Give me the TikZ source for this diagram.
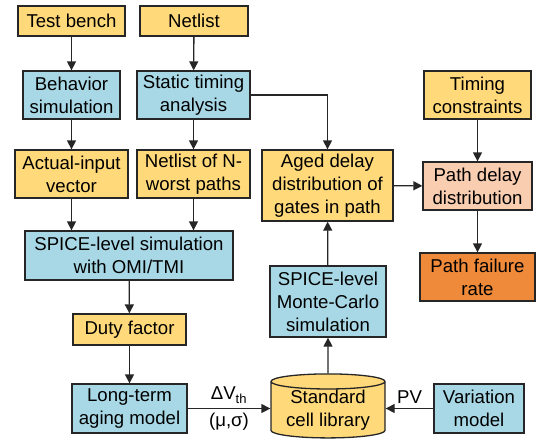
\documentclass[tikz,border=0pt]{standalone}
\usepackage{fontspec}
\setmainfont{Liberation Sans}
\usetikzlibrary{shapes.geometric,arrows.meta}
\definecolor{boxyellow}{HTML}{FFD97A}
\definecolor{boxblue}{HTML}{A8D8E6}
\definecolor{boxpeach}{HTML}{F9CDB0}
\definecolor{boxorange}{HTML}{EE8A3A}

\begin{document}
\begin{tikzpicture}[x=1pt,y=-1pt,
    box/.style={draw=black!85,line width=1.3pt,align=center,inner sep=0pt,
      font=\fontsize{18.6}{23}\selectfont},
    yellowbox/.style={box,fill=boxyellow},
    bluebox/.style={box,fill=boxblue},
    arr/.style={-{Triangle[length=9pt,width=9pt]},line width=1.3pt,draw=black!85}]
  \useasboundingbox (0,0) rectangle (537,440);

  \node[yellowbox,minimum width=107pt,minimum height=30pt] (tb) at (71.5,21) {Test bench};
  \node[yellowbox,minimum width=108pt,minimum height=30pt] (nl) at (194,21) {Netlist};
  \node[bluebox,minimum width=97pt,minimum height=48pt] (beh) at (71.5,95) {Behavior\\simulation};
  \node[bluebox,minimum width=113pt,minimum height=48pt] (sta) at (193.5,95) {Static timing\\analysis};
  \node[yellowbox,minimum width=113pt,minimum height=48pt] (aiv) at (71.5,174) {Actual-input\\vector};
  \node[yellowbox,minimum width=113pt,minimum height=48pt] (nwp) at (193.5,174) {Netlist of N-\\worst paths};
  \node[bluebox,minimum width=208pt,minimum height=49pt] (spice) at (129,255.5) {SPICE-level simulation\\with OMI/TMI};
  \node[yellowbox,minimum width=113pt,minimum height=31pt] (duty) at (129.5,329.5) {Duty factor};
  \node[bluebox,minimum width=115pt,minimum height=49pt] (aging) at (129.5,408.5) {Long-term\\aging model};

  \node[yellowbox,minimum width=131pt,minimum height=71pt] (aged) at (327.5,185.5) {Aged delay\\distribution of\\gates in path};
  \node[bluebox,minimum width=116pt,minimum height=71pt] (mc) at (328,301.5) {SPICE-level\\Monte-Carlo\\simulation};
  \node[yellowbox,cylinder,shape border rotate=90,aspect=0.18,
    minimum width=114pt,minimum height=64pt] (lib) at (328,410) {Standard\\cell library};

  \node[yellowbox,minimum width=107pt,minimum height=48pt] (tc) at (477.5,95) {Timing\\constraints};
  \node[box,fill=boxpeach,minimum width=109pt,minimum height=48pt] (pdd) at (477.5,186) {Path delay\\distribution};
  \node[box,fill=boxorange,minimum width=115pt,minimum height=48pt] (pfr) at (477.5,277) {Path failure\\rate};
  \node[bluebox,minimum width=90pt,minimum height=49pt] (var) at (479,408.5) {Variation\\model};

  \draw[arr] (tb) -- (beh);
  \draw[arr] (nl) -- (sta);
  \draw[arr] (beh) -- (aiv);
  \draw[arr] (sta) -- (nwp);
  \draw[arr] (aiv) -- (aiv|-spice.north);
  \draw[arr] (nwp) -- (nwp|-spice.north);
  \draw[arr] (spice) -- (duty);
  \draw[arr] (duty) -- (aging);
  \draw[arr] (aging.east) -- (lib.west|-aging.east)
    node[midway,above=1pt,font=\fontsize{18.6}{23}\selectfont] (dv) {ΔV\textsubscript{th}}
    node[midway,below=1pt,font=\fontsize{18.6}{23}\selectfont] (ms) {(μ,σ)};
  \draw[arr] (var.west) -- (lib.east|-var.west)
    node[midway,above=1pt,font=\fontsize{18.6}{23}\selectfont] (pv) {PV};
  \draw[arr] (lib) -- (mc);
  \draw[arr] (mc) -- (aged);
  \draw[arr] (sta.east) -| (aged.north);
  \draw[arr] (aged) -- (pdd);
  \draw[arr] (tc) -- (pdd);
  \draw[arr] (pdd) -- (pfr);
\end{tikzpicture}
\end{document}
